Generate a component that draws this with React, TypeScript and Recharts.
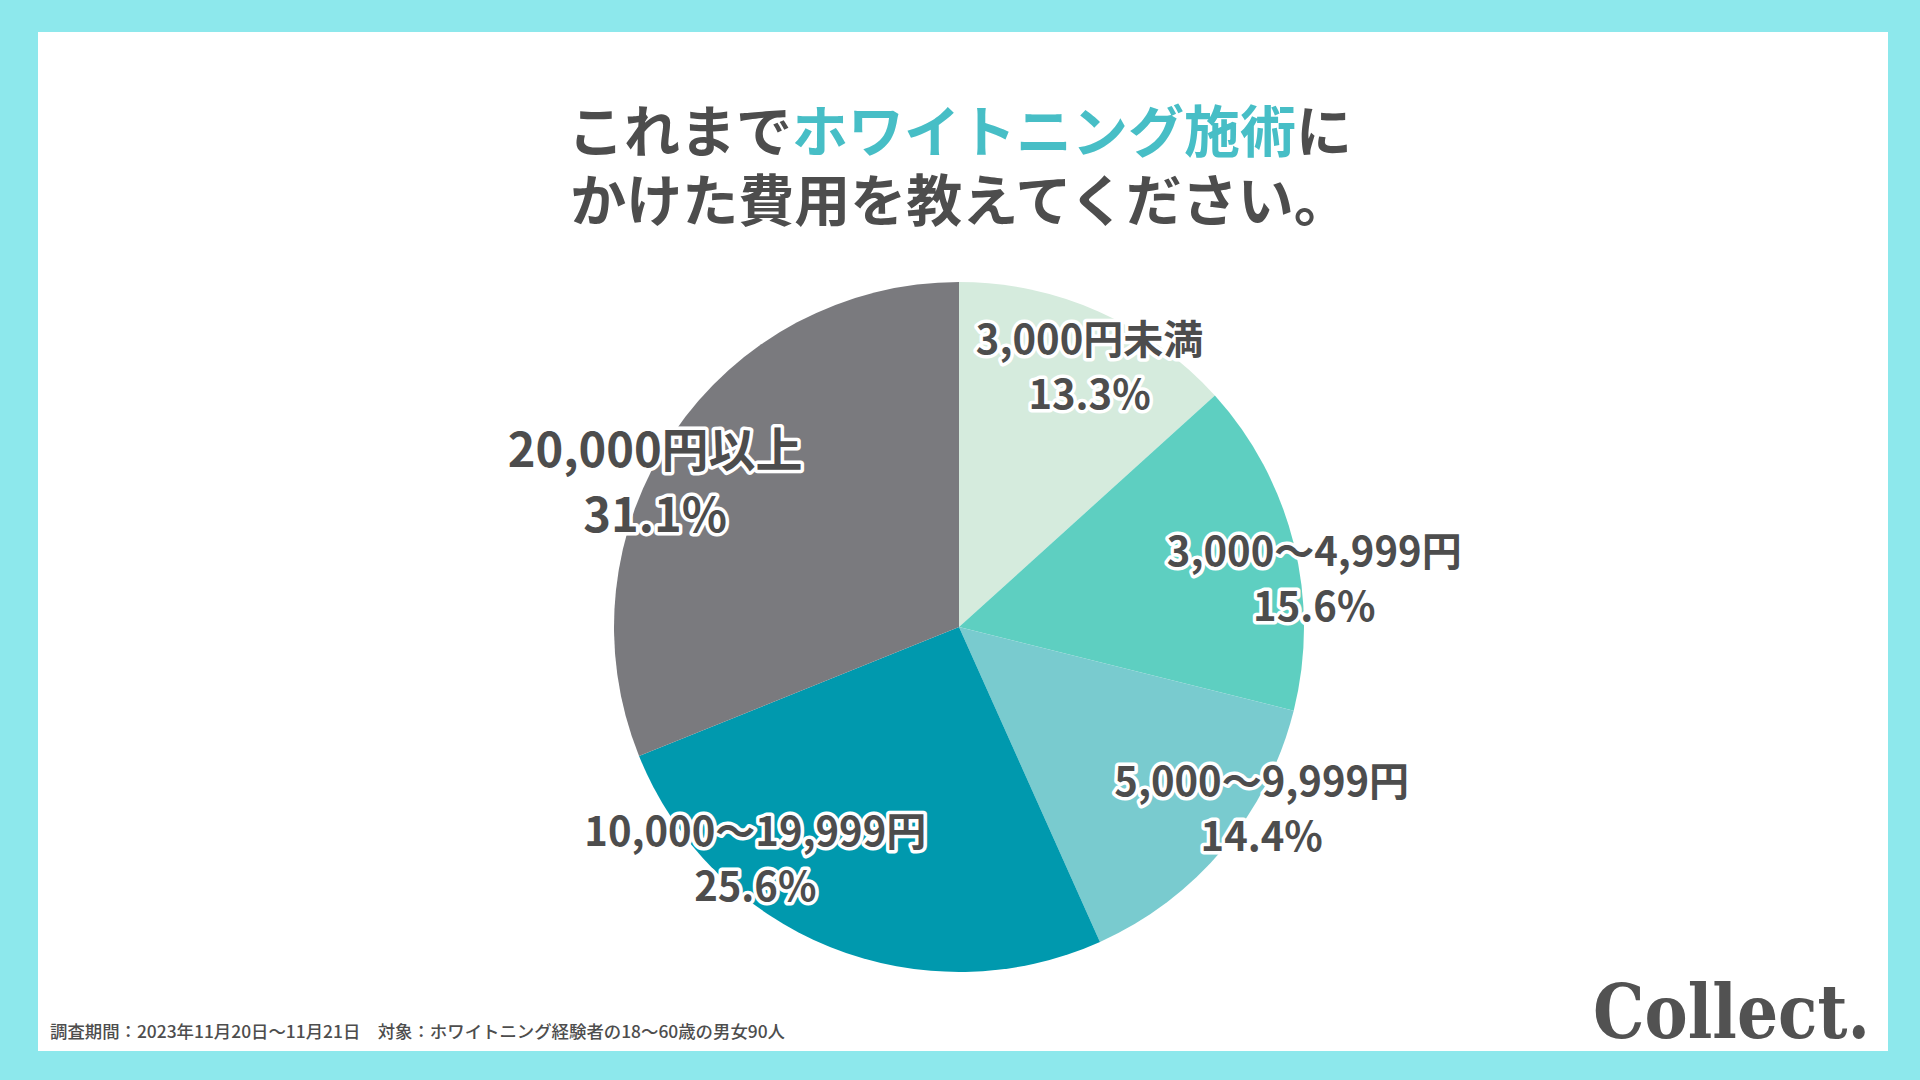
import { PieChart, Pie, Cell } from 'recharts'

// survey answers (share of respondents, %)
const categories = ['3,000円未満', '3,000～4,999円', '5,000～9,999円', '10,000～19,999円', '20,000円以上']
const shares = [13.3, 15.6, 14.4, 25.6, 31.1]
const sliceColors = ['#D5EBDD', '#5ECFC1', '#79CBCF', '#0099AE', '#7A7A7E']

const titleLead = 'これまで'
const titleAccent = 'ホワイトニング施術'
const titleTail = 'に'
const titleLine2 = 'かけた費用を教えてください。'
const footnote = '調査期間：2023年11月20日～11月21日　対象：ホワイトニング経験者の18～60歳の男女90人'
const brand = 'Collect.'

// label nudges: extra angle (deg) and radius factor per slice
const labelTweaks = [
  { dA: -2.5, rf: 0.85 },
  { dA: -6, rf: 1.04 },
  { dA: 9.3, rf: 1.02 },
  { dA: -19.6, rf: 0.89 },
  { dA: 8, rf: 0.98 },
]

const data = categories.map((name, i) => ({ name, value: shares[i] }))

const TEXT = '#4D4D4D'
const FONT = '"Noto Sans CJK JP", "Noto Sans", sans-serif'

const renderLabel = (props: any) => {
  const { cx, cy, midAngle, outerRadius, index } = props
  const t = labelTweaks[index]
  const ang = ((midAngle + t.dA) * Math.PI) / 180
  const r = outerRadius * t.rf
  const x = cx + r * Math.cos(-ang)
  const y = cy + r * Math.sin(-ang)
  const big = index === 4
  const fs = big ? 47 : 40
  const lh = big ? 65 : 55
  return (
    <text
      x={x}
      y={y}
      textAnchor="middle"
      fill={TEXT}
      stroke="#fff"
      strokeWidth={7}
      strokeLinejoin="round"
      paintOrder="stroke"
      fontFamily={FONT}
      fontWeight={700}
      fontSize={fs}
    >
      <tspan x={x} y={y - lh / 2} dominantBaseline="central">
        {categories[index]}
      </tspan>
      <tspan x={x} y={y + lh / 2} dominantBaseline="central">
        {shares[index].toFixed(1)}%
      </tspan>
    </text>
  )
}

export default function App() {
  return (
    <div
      style={{
        position: 'absolute',
        left: 0,
        top: 0,
        width: 1920,
        height: 1080,
        background: '#8DE8EC',
        overflow: 'hidden',
      }}
    >
      <div
        style={{
          position: 'absolute',
          left: 38,
          top: 32,
          width: 1850,
          height: 1019,
          background: '#fff',
        }}
      />
      <div
        style={{
          position: 'absolute',
          left: 0,
          top: 93,
          width: 1920,
          textAlign: 'center',
          fontFamily: FONT,
          fontWeight: 700,
          fontSize: 56,
          lineHeight: '69px',
          color: TEXT,
        }}
      >
        <div>
          {titleLead}
          <span style={{ color: '#47BEC6' }}>{titleAccent}</span>
          {titleTail}
        </div>
        <div>{titleLine2}</div>
      </div>
      <div style={{ position: 'absolute', left: 0, top: 0 }}>
        <PieChart width={1920} height={1080} margin={{ top: 0, right: 0, bottom: 0, left: 0 }}>
          <Pie
            data={data}
            dataKey="value"
            nameKey="name"
            cx={959}
            cy={627}
            outerRadius={345}
            startAngle={90}
            endAngle={-270}
            stroke="none"
            label={renderLabel}
            labelLine={false}
            isAnimationActive={false}
          >
            {data.map((d, i) => (
              <Cell key={d.name} fill={sliceColors[i]} />
            ))}
          </Pie>
        </PieChart>
      </div>
      <svg
        width={1920}
        height={1080}
        style={{ position: 'absolute', left: 0, top: 0, pointerEvents: 'none' }}
      >
        <text
          x={50}
          y={1038}
          fontFamily={FONT}
          fontWeight={500}
          fontSize={17}
          fill={TEXT}
          textLength={735}
          lengthAdjust="spacingAndGlyphs"
        >
          {footnote}
        </text>
        <text
          x={1593}
          y={1038}
          fontFamily='"DejaVu Serif", serif'
          fontWeight={700}
          fontSize={75}
          fill="#525252"
          textLength={277}
          lengthAdjust="spacingAndGlyphs"
        >
          {brand}
        </text>
      </svg>
    </div>
  )
}
